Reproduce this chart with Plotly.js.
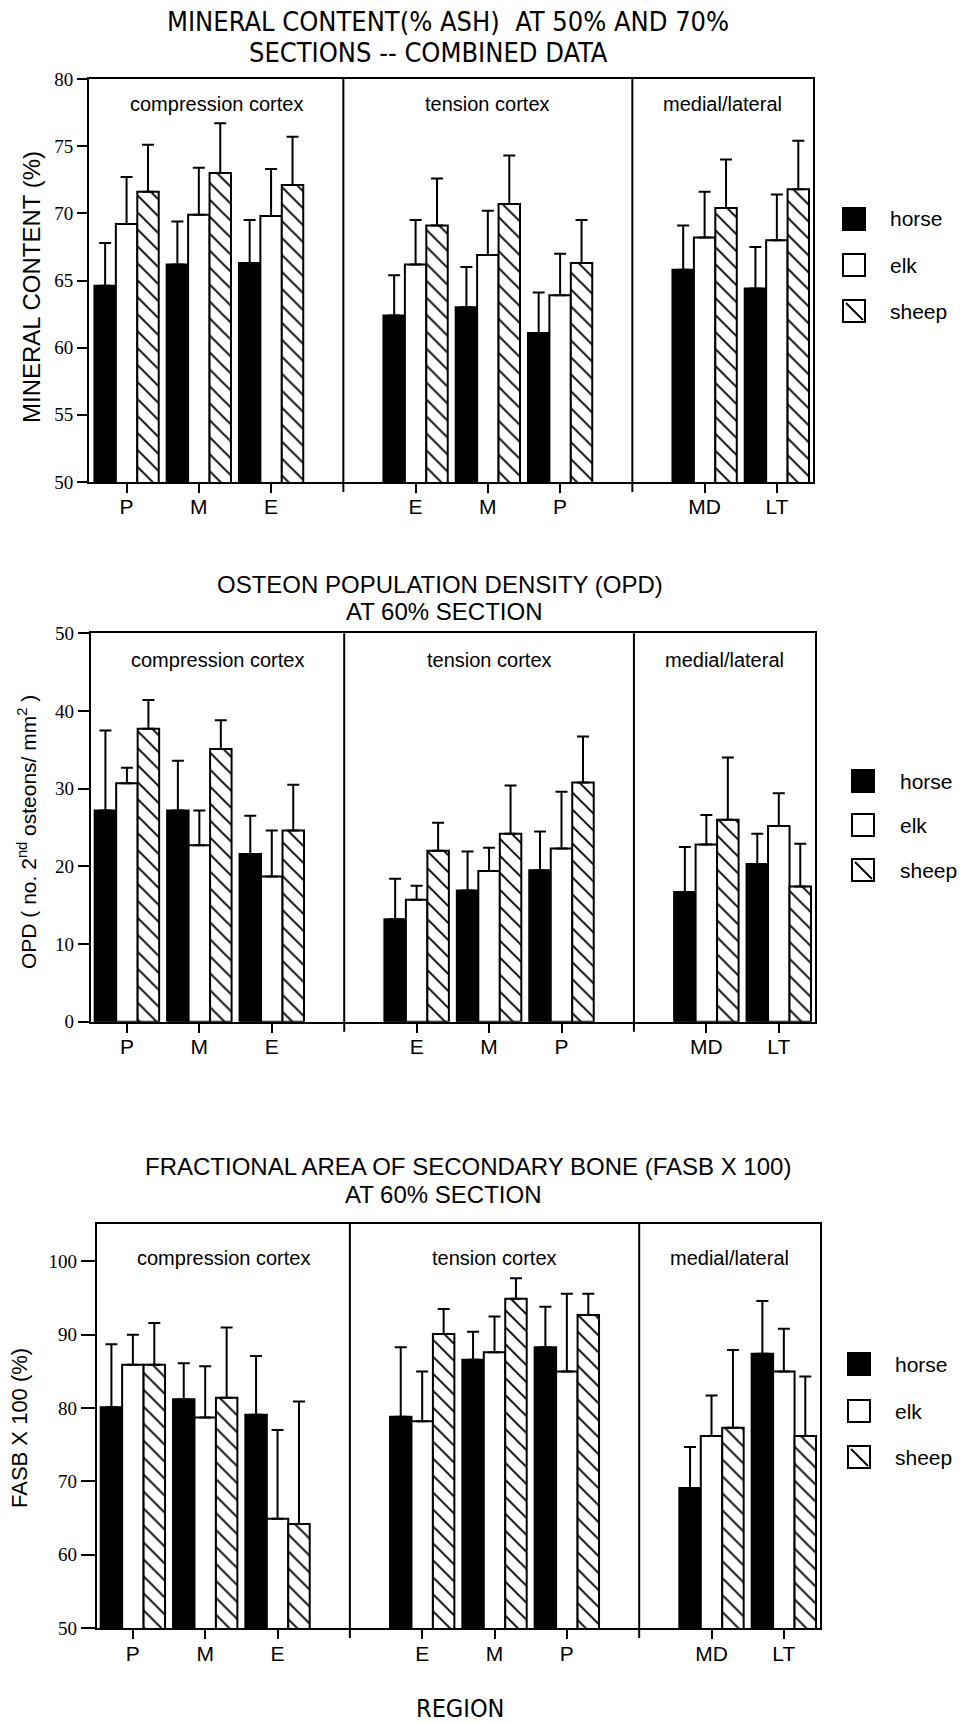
<!DOCTYPE html>
<html>
<head>
<meta charset="utf-8">
<script src="https://cdn.plot.ly/plotly-3.0.1.min.js"></script>
<style>html,body{margin:0;padding:0;background:#fff;}#chart{width:963px;height:1724px;}</style>
</head>
<body>
<div id="chart"></div>
<script>
// ---------------- DATA ----------------
const species = ['horse', 'elk', 'sheep'];
const sectionNames = ['compression cortex', 'tension cortex', 'medial/lateral'];
const regionLabels = ['P', 'M', 'E', 'E', 'M', 'P', 'MD', 'LT'];
const regionSection = [0, 0, 0, 1, 1, 1, 2, 2];

// Mineral content (% ash), 50% and 70% sections combined
const mineralHorse   = [64.6, 66.2, 66.3, 62.4, 63.0, 61.1, 65.8, 64.4];
const mineralHorseSD = [3.2, 3.2, 3.2, 3.0, 3.0, 3.0, 3.3, 3.1];
const mineralElk     = [69.2, 69.9, 69.8, 66.2, 66.9, 63.9, 68.2, 68.0];
const mineralElkSD   = [3.5, 3.5, 3.5, 3.3, 3.3, 3.1, 3.4, 3.4];
const mineralSheep   = [71.6, 73.0, 72.1, 69.1, 70.7, 66.3, 70.4, 71.8];
const mineralSheepSD = [3.5, 3.7, 3.6, 3.5, 3.6, 3.2, 3.6, 3.6];

// Osteon population density (OPD), 60% section
const opdHorse   = [27.2, 27.2, 21.6, 13.2, 16.9, 19.5, 16.7, 20.3];
const opdHorseSD = [10.3, 6.4, 4.9, 5.2, 5.0, 5.0, 5.8, 3.9];
const opdElk     = [30.7, 22.7, 18.7, 15.7, 19.4, 22.3, 22.8, 25.2];
const opdElkSD   = [2.0, 4.5, 5.9, 1.8, 3.0, 7.3, 3.8, 4.2];
const opdSheep   = [37.7, 35.1, 24.6, 22.0, 24.2, 30.8, 26.0, 17.4];
const opdSheepSD = [3.7, 3.7, 5.9, 3.6, 6.2, 5.9, 8.0, 5.5];

// Fractional area of secondary bone (FASB x 100), 60% section
const fasbHorse   = [80.1, 81.2, 79.1, 78.8, 86.6, 88.3, 69.1, 87.4];
const fasbHorseSD = [8.6, 4.9, 8.0, 9.5, 3.8, 5.5, 5.6, 7.2];
const fasbElk     = [85.9, 78.7, 64.9, 78.2, 87.6, 85.0, 76.2, 85.0];
const fasbElkSD   = [4.1, 7.0, 12.1, 6.8, 4.9, 10.6, 5.5, 5.8];
const fasbSheep   = [85.9, 81.4, 64.2, 90.1, 94.9, 92.7, 77.3, 76.2];
const fasbSheepSD = [5.7, 9.6, 16.7, 3.4, 2.8, 2.9, 10.6, 8.1];

const yTickVals1 = [50, 55, 60, 65, 70, 75, 80];
const yTickVals2 = [0, 10, 20, 30, 40, 50];
const yTickVals3 = [50, 60, 70, 80, 90, 100];

// ---------------- HELPERS ----------------
const W = 963, H = 1724;
const px = x => x / W;
const py = y => 1 - y / H;

const SANS = 'Liberation Sans, Arial, Helvetica, sans-serif';
const NARROW = 'Liberation Sans Narrow, Arial Narrow, DejaVu Sans Condensed, sans-serif';
const SERIF = 'Liberation Serif, Times New Roman, serif';

// x position of each region: index plus one empty slot per preceding section
const regionPos = regionLabels.map((_, i) => i + regionSection[i]);
const dividerPos = [];
for (let s = 1; s < sectionNames.length; s++) {
  const first = regionSection.indexOf(s);
  dividerPos.push(regionPos[first] - 1);
}

const panels = [
  {
    series: [[mineralHorse, mineralHorseSD], [mineralElk, mineralElkSD], [mineralSheep, mineralSheepSD]],
    box: {x0: 89, x1: 813, y0: 79, y1: 482},
    yrange: [50, 80], ytv: yTickVals1, xrange: [-0.52, 9.5], yticklen: 10,
    xstand: -4,
    title: [{t: 'MINERAL CONTENT(% ASH)  AT 50% AND 70%', x: 448, y: 22}, {t: 'SECTIONS -- COMBINED DATA', x: 428, y: 53}],
    titleFont: {family: NARROW, size: 27},
    ytitle: {t: 'MINERAL CONTENT (%)', x: 32, y: 287, size: 24},
    groupY: 104,
    legend: {x: 843, ys: [219, 265, 311], tx: 888}
  },
  {
    series: [[opdHorse, opdHorseSD], [opdElk, opdElkSD], [opdSheep, opdSheepSD]],
    box: {x0: 90.7, x1: 815, y0: 633.3, y1: 1021.7},
    yrange: [0, 50], ytv: yTickVals2, xrange: [-0.5, 9.5], yticklen: 11,
    xstand: -4,
    title: [{t: 'OSTEON POPULATION DENSITY (OPD)', x: 440, y: 584}, {t: 'AT 60% SECTION', x: 444, y: 611}],
    titleFont: {family: SANS, size: 24},
    ytitle: {t: 'OPD ( no. 2<sup>nd</sup> osteons/ mm<sup>2</sup> )', x: 27, y: 832, size: 21},
    groupY: 660,
    legend: {x: 852, ys: [781, 825, 870], tx: 898}
  },
  {
    series: [[fasbHorse, fasbHorseSD], [fasbElk, fasbElkSD], [fasbSheep, fasbSheepSD]],
    box: {x0: 96.7, x1: 820, y0: 1224, y1: 1628},
    yrange: [50, 105.1], ytv: yTickVals3, xrange: [-0.5, 9.5], yticklen: 14,
    xstand: -3,
    title: [{t: 'FRACTIONAL AREA OF SECONDARY BONE (FASB X 100)', x: 468, y: 1166}, {t: 'AT 60% SECTION', x: 443, y: 1194}],
    titleFont: {family: SANS, size: 24},
    ytitle: {t: 'FASB X 100 (%)', x: 19, y: 1428, size: 22},
    groupY: 1258,
    legend: {x: 848, ys: [1364, 1411, 1457], tx: 893}
  }
];

const speciesStyle = [
  {color: 'black'},
  {color: 'white'},
  {color: 'white', pattern: {shape: '\\', fgcolor: 'black', bgcolor: 'white', size: 12, solidity: 0.16}}
];

const data = [];
const layout = {
  width: W, height: H,
  margin: {l: 0, r: 0, t: 0, b: 0},
  paper_bgcolor: 'white', plot_bgcolor: 'white',
  showlegend: false,
  barmode: 'group', bargap: 0.11, bargroupgap: 0,
  font: {family: SANS, color: 'black'},
  shapes: [], annotations: []
};

const XTICKLEN = 9;

panels.forEach((p, k) => {
  const n = k === 0 ? '' : String(k + 1);
  const xa = 'x' + n, ya = 'y' + n;
  species.forEach((sp, s) => {
    const [vals, sd] = p.series[s];
    const st = speciesStyle[s];
    const marker = {color: st.color, line: {color: 'black', width: 2}};
    if (st.pattern) marker.pattern = st.pattern;
    data.push({
      type: 'bar', name: sp, x: regionPos, y: vals,
      xaxis: xa, yaxis: ya, marker: marker,
      error_y: {type: 'data', symmetric: false, array: sd, arrayminus: sd.map(() => 0),
                color: 'black', thickness: 2, width: 6},
      hoverinfo: 'y'
    });
  });
  const b = p.box;
  const hpx = b.y1 - b.y0;
  layout['xaxis' + n] = {
    domain: [px(b.x0), px(b.x1)], anchor: ya, range: p.xrange,
    tickmode: 'array', tickvals: regionPos, ticktext: regionLabels,
    ticks: 'outside', ticklen: XTICKLEN, tickwidth: 2, tickcolor: 'black',
    showline: true, linewidth: 2, linecolor: 'black', mirror: true,
    showgrid: false, zeroline: false, fixedrange: true,
    ticklabelstandoff: p.xstand,
    tickfont: {family: SANS, size: 21, color: 'black'}
  };
  layout['yaxis' + n] = {
    domain: [py(b.y1), py(b.y0)], anchor: xa, range: p.yrange,
    tickmode: 'array', tickvals: p.ytv,
    ticks: 'outside', ticklen: p.yticklen, tickwidth: 2, tickcolor: 'black',
    showline: true, linewidth: 2, linecolor: 'black', mirror: true,
    showgrid: false, zeroline: false, fixedrange: true,
    tickfont: {family: SERIF, size: 19, color: 'black'}
  };
  // section dividers (extend below the axis like a tick)
  dividerPos.forEach(d => {
    layout.shapes.push({type: 'line', xref: xa, yref: ya + ' domain', x0: d, x1: d,
                        y0: -(XTICKLEN + 1) / hpx, y1: 1,
                        line: {color: 'black', width: 2}});
  });
  // section labels
  const bounds = [p.xrange[0]].concat(dividerPos, [p.xrange[1]]);
  sectionNames.forEach((nm, s) => {
    layout.annotations.push({text: nm, xref: xa, yref: 'paper', x: (bounds[s] + bounds[s + 1]) / 2,
      y: py(p.groupY), xanchor: 'center', yanchor: 'middle', showarrow: false,
      font: {family: SANS, size: 20, color: 'black'}});
  });
  // titles
  p.title.forEach(t => {
    layout.annotations.push({text: t.t, xref: 'paper', yref: 'paper', x: px(t.x), y: py(t.y),
      xanchor: 'center', yanchor: 'middle', showarrow: false,
      font: Object.assign({color: 'black'}, p.titleFont)});
  });
  // y-axis title
  layout.annotations.push({text: p.ytitle.t, xref: 'paper', yref: 'paper', x: px(p.ytitle.x), y: py(p.ytitle.y),
    xanchor: 'center', yanchor: 'middle', textangle: -90, showarrow: false,
    font: {family: SANS, size: p.ytitle.size, color: 'black'}});
  // legend
  const L = p.legend, sz = 22;
  species.forEach((sp, s) => {
    const yc = L.ys[s];
    const st = speciesStyle[s];
    layout.shapes.push({type: 'rect', xref: 'paper', yref: 'paper',
      x0: px(L.x), x1: px(L.x + sz), y0: py(yc + sz / 2), y1: py(yc - sz / 2),
      fillcolor: st.color, line: {color: 'black', width: 2}});
    if (st.pattern) {
      layout.shapes.push({type: 'line', xref: 'paper', yref: 'paper',
        x0: px(L.x + 3), x1: px(L.x + sz - 2), y0: py(yc - sz / 2 + 3), y1: py(yc + sz / 2 - 2),
        line: {color: 'black', width: 2}});
    }
    layout.annotations.push({text: sp, xref: 'paper', yref: 'paper', x: px(L.tx), y: py(yc),
      xanchor: 'left', yanchor: 'middle', showarrow: false,
      font: {family: SANS, size: 21, color: 'black'}});
  });
});

// shared x-axis title
layout.annotations.push({text: 'REGION', xref: 'paper', yref: 'paper', x: px(460), y: 0,
  xanchor: 'center', yanchor: 'bottom', showarrow: false, borderpad: 0,
  font: {family: NARROW, size: 25, color: 'black'}});

Plotly.newPlot('chart', data, layout, {displayModeBar: false, staticPlot: true});
</script>
</body>
</html>
